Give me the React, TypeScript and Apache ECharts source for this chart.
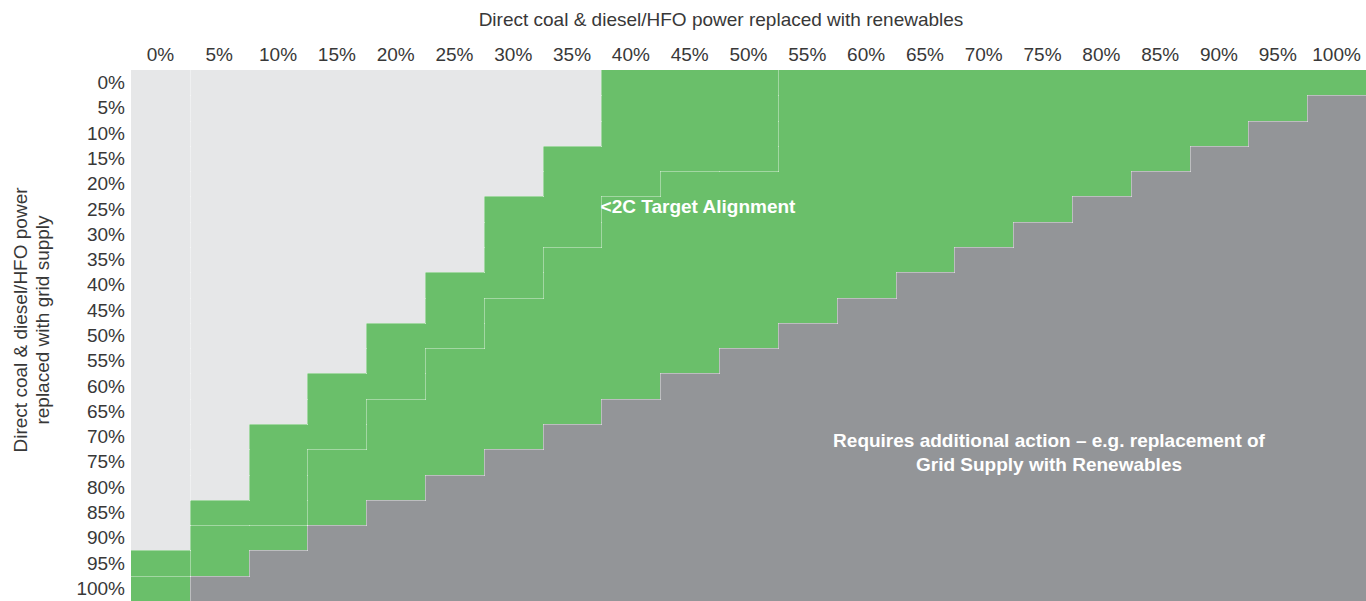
import React, { useEffect, useRef } from "react";
import * as echarts from "echarts";

const xLabels = ["0%", "5%", "10%", "15%", "20%", "25%", "30%", "35%", "40%", "45%", "50%", "55%", "60%", "65%", "70%", "75%", "80%", "85%", "90%", "95%", "100%"];
const yLabels = ["0%", "5%", "10%", "15%", "20%", "25%", "30%", "35%", "40%", "45%", "50%", "55%", "60%", "65%", "70%", "75%", "80%", "85%", "90%", "95%", "100%"];

// per renewables column: first grid-supply row that reaches <2C alignment
const alignStart = [19, 17, 14, 12, 10, 8, 5, 3, 0, 0, 0, 0, 0, 0, 0, 0, 0, 0, 0, 0, 0];
// per column: first row of the second (lower) aligned band
const bandStart = [20, 18, 18, 15, 13, 11, 9, 7, 5, 4, 4, 0, 0, 0, 0, 0, 0, 0, 0, 0, 0];
// per column: first row that requires additional action
const actionStart = [21, 20, 19, 18, 17, 16, 15, 14, 13, 12, 11, 10, 9, 8, 7, 6, 5, 4, 3, 2, 1];
// per column: light-grey group
const lightGroup = [0, 1, 1, 1, 1, 1, 1, 1, 1, 1, 1, 1, 1, 1, 1, 1, 1, 1, 1, 1, 1];

const zoneColors = ["#e6e7e8", "#e6e7e8", "#6abf6a", "#6abf6a", "#939598"];

function zoneOf(i: number, j: number): number {
  if (j < alignStart[i]) return lightGroup[i] === 0 ? 0 : 1;
  if (j < bandStart[i]) return 2;
  if (j < actionStart[i]) return 3;
  return 4;
}

const FONT = "Liberation Sans, Arial, Helvetica, sans-serif";
const TEXT = "#383838";

function cellBox(api: any, i: number, j: number) {
  const c = api.coord([i, j]);
  const s = api.size([1, 1]);
  const x0 = Math.round(c[0] - s[0] / 2);
  const x1 = Math.round(c[0] + s[0] / 2);
  const y0 = Math.round(c[1] - s[1] / 2);
  const y1 = Math.round(c[1] + s[1] / 2);
  return { x0, x1, y0, y1 };
}

export default function App() {
  const ref = useRef<HTMLDivElement>(null);
  useEffect(() => {
    if (!ref.current) return;
    const chart = echarts.init(ref.current, null, { renderer: "svg" });
    const cells: number[][] = [];
    for (let i = 0; i < xLabels.length; i++) {
      for (let j = 0; j < yLabels.length; j++) {
        cells.push([i, j, zoneOf(i, j)]);
      }
    }
    const n = xLabels.length;
    const m = yLabels.length;
    chart.setOption({
      animation: false,
      grid: { left: 131, top: 70, width: 1239, height: 535 },
      xAxis: {
        type: "category",
        position: "top",
        data: xLabels,
        axisLine: { show: false },
        axisTick: { show: false },
        splitLine: { show: false },
        axisLabel: { fontSize: 19, color: TEXT, fontFamily: FONT, margin: 6, interval: 0 },
      },
      yAxis: {
        type: "category",
        inverse: true,
        data: yLabels,
        axisLine: { show: false },
        axisTick: { show: false },
        splitLine: { show: false },
        axisLabel: { fontSize: 19, color: TEXT, fontFamily: FONT, margin: 6, interval: 0 },
      },
      series: [
        {
          type: "custom",
          silent: true,
          encode: { x: 0, y: 1 },
          data: cells,
          renderItem: (params: any, api: any) => {
            const b = cellBox(api, api.value(0), api.value(1));
            const col = zoneColors[api.value(2)];
            return {
              type: "rect",
              shape: { x: b.x0, y: b.y0, width: b.x1 - b.x0 + 0.6, height: b.y1 - b.y0 + 0.6 },
              style: { fill: col },
            };
          },
        },
        {
          type: "custom",
          silent: true,
          encode: { x: 0, y: 1 },
          data: cells,
          z: 3,
          renderItem: (params: any, api: any) => {
            const i = api.value(0);
            const j = api.value(1);
            const z = api.value(2);
            const b = cellBox(api, i, j);
            const children: any[] = [];
            const st = { stroke: "rgba(255,255,255,0.38)", lineWidth: 1 };
            if (i < n - 1 && zoneOf(i + 1, j) !== z) {
              children.push({ type: "line", shape: { x1: b.x1 + 0.5, y1: b.y0, x2: b.x1 + 0.5, y2: b.y1 + 1 }, style: st });
            }
            if (j < m - 1 && zoneOf(i, j + 1) !== z) {
              children.push({ type: "line", shape: { x1: b.x0, y1: b.y1 + 0.5, x2: b.x1 + 1, y2: b.y1 + 0.5 }, style: st });
            }
            return { type: "group", children };
          },
        },
      ],
      graphic: [
        {
          type: "text",
          x: 721,
          y: 19,
          style: {
            text: "Direct coal & diesel/HFO power replaced with renewables",
            font: `19px ${FONT}`,
            fill: TEXT,
            textAlign: "center",
            textVerticalAlign: "middle",
            align: "center",
            verticalAlign: "middle",
          },
        },
        {
          type: "text",
          x: 31,
          y: 320,
          rotation: Math.PI / 2,
          style: {
            text: "Direct coal & diesel/HFO power\nreplaced with grid supply",
            font: `19px ${FONT}`,
            lineHeight: 22,
            fill: TEXT,
            textAlign: "center",
            textVerticalAlign: "middle",
            align: "center",
            verticalAlign: "middle",
          },
        },
        {
          type: "text",
          x: 698,
          y: 206,
          z: 10,
          style: {
            text: "<2C Target Alignment",
            font: `bold 19px ${FONT}`,
            fill: "#ffffff",
            textAlign: "center",
            textVerticalAlign: "middle",
            align: "center",
            verticalAlign: "middle",
          },
        },
        {
          type: "text",
          x: 1049,
          y: 452,
          z: 10,
          style: {
            text: "Requires additional action – e.g. replacement of\nGrid Supply with Renewables",
            font: `bold 19px ${FONT}`,
            lineHeight: 24,
            fill: "#ffffff",
            textAlign: "center",
            textVerticalAlign: "middle",
            align: "center",
            verticalAlign: "middle",
          },
        },
      ],
    });
    return () => chart.dispose();
  }, []);
  return (
    <div
      ref={ref}
      style={{ position: "fixed", left: 0, top: 0, width: 1366, height: 601, background: "#ffffff" }}
    />
  );
}
